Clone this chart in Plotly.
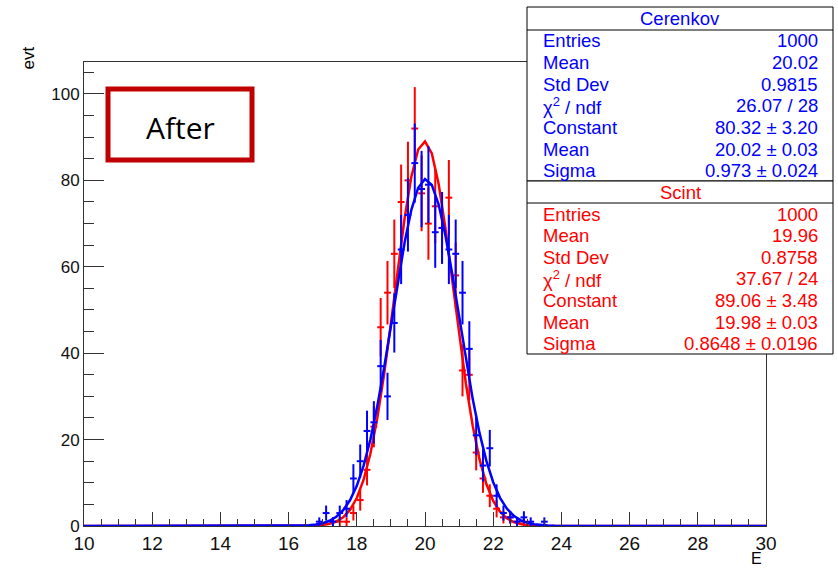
import numpy as np
import plotly.graph_objects as go

# ---------------- data ----------------
bin_centers_blue = [16.9, 17.1, 17.3, 17.5, 17.7, 17.9, 18.1, 18.3, 18.5, 18.7, 18.9,
                    19.1, 19.3, 19.5, 19.7, 19.9, 20.1, 20.3, 20.5, 20.7, 20.9,
                    21.1, 21.3, 21.5, 21.7, 21.9, 22.1, 22.3, 22.5, 22.7, 22.9,
                    23.1, 23.5]
cerenkov_counts = [1, 3, 1, 3, 4, 11, 15, 22, 24, 37, 30,
                   47, 64, 72, 84, 78, 79, 68, 69, 64, 63,
                   54, 41, 21, 14, 18, 7, 3, 2, 1, 2,
                   1, 1]

bin_centers_red = [17.3, 17.5, 17.7, 17.9, 18.1, 18.3, 18.5, 18.7, 18.9,
                   19.1, 19.3, 19.5, 19.7, 19.9, 20.1, 20.3, 20.5, 20.7, 20.9,
                   21.1, 21.3, 21.5, 21.7, 21.9, 22.1, 22.3, 22.5, 22.7, 22.9]
scint_counts = [1, 1, 1, 3, 6, 13, 23, 46, 54,
                63, 75, 80, 92, 77, 70, 74, 69, 76, 58,
                36, 35, 17, 11, 7, 4, 2, 2, 1, 1]

# fit parameters (from the stats boxes)
cer_fit = dict(const=80.32, mean=20.02, sigma=0.973)
sci_fit = dict(const=89.06, mean=19.98, sigma=0.8648)

cer_stats = [("Entries", "1000"), ("Mean", "20.02"), ("Std Dev", "0.9815"),
             ("χ<sup>2</sup> / ndf", "26.07 / 28"), ("Constant", "80.32 ± 3.20"),
             ("Mean", "20.02 ± 0.03"), ("Sigma", "0.973 ± 0.024")]
sci_stats = [("Entries", "1000"), ("Mean", "19.96"), ("Std Dev", "0.8758"),
             ("χ<sup>2</sup> / ndf", "37.67 / 24"), ("Constant", "89.06 ± 3.48"),
             ("Mean", "19.98 ± 0.03"), ("Sigma", "0.8648 ± 0.0196")]

bin_width = 0.2
x_range = [10, 30]
y_range = [0, 107.4]

BLUE = "#0000ff"
RED = "#ff0000"
FONT = "Liberation Sans"

# ---------------- geometry helpers ----------------
W, H = 838, 569
L, R, T, B = 84, 766, 62, 526


def px(xp):
    return (xp - L) / (R - L)


def py(yp):
    return (B - yp) / (B - T)


fig = go.Figure()


def add_hist(xc, counts, color):
    fig.add_trace(go.Scatter(
        x=xc, y=counts, mode="markers",
        marker=dict(size=1, color=color),
        error_y=dict(type="data", array=list(np.sqrt(counts)), visible=True,
                     color=color, thickness=2, width=0),
        error_x=dict(type="constant", value=bin_width / 2, visible=True,
                     color=color, thickness=2, width=0),
        showlegend=False, hoverinfo="skip"))


def add_fit(p, color):
    xs = np.linspace(x_range[0], x_range[1], 101)
    ys = p["const"] * np.exp(-0.5 * ((xs - p["mean"]) / p["sigma"]) ** 2)
    fig.add_trace(go.Scatter(x=xs, y=ys, mode="lines",
                             line=dict(color=color, width=2.5),
                             showlegend=False, hoverinfo="skip"))


add_hist(bin_centers_red, scint_counts, RED)
add_fit(sci_fit, RED)
add_hist(bin_centers_blue, cerenkov_counts, BLUE)
add_fit(cer_fit, BLUE)

shapes = []
annotations = []
SF = 18.5


def stats_box(top, bottom, title_sep, title, rows, color):
    shapes.append(dict(type="rect", xref="paper", yref="paper",
                       x0=px(527), x1=px(833), y0=py(bottom), y1=py(top),
                       line=dict(color="black", width=1), fillcolor="white",
                       layer="above"))
    shapes.append(dict(type="line", xref="paper", yref="paper",
                       x0=px(527), x1=px(833), y0=py(title_sep), y1=py(title_sep),
                       line=dict(color="black", width=1), layer="above"))
    annotations.append(dict(xref="paper", yref="paper", x=px(680),
                            y=py((top + title_sep) / 2), text=title,
                            showarrow=False, xanchor="center", yanchor="middle",
                            font=dict(family=FONT, size=SF, color=color)))
    for i, (k, v) in enumerate(rows):
        yy = title_sep + 11 + i * 21.6
        annotations.append(dict(xref="paper", yref="paper", x=px(541), y=py(yy),
                                text=k, showarrow=False, xanchor="left",
                                yanchor="middle",
                                font=dict(family=FONT, size=SF, color=color)))
        annotations.append(dict(xref="paper", yref="paper", x=px(820), y=py(yy),
                                text=v, showarrow=False, xanchor="right",
                                yanchor="middle",
                                font=dict(family=FONT, size=SF, color=color)))


stats_box(7, 181, 30, "Cerenkov", cer_stats, BLUE)
stats_box(181, 354, 203, "Scint", sci_stats, RED)

# "After" box
shapes.append(dict(type="rect", xref="paper", yref="paper",
                   x0=px(108), x1=px(252), y0=py(160), y1=py(89),
                   line=dict(color="#c00000", width=5), fillcolor="rgba(0,0,0,0)",
                   layer="above"))
annotations.append(dict(xref="paper", yref="paper", x=px(180), y=py(127),
                        text="After", showarrow=False, xanchor="center",
                        yanchor="middle",
                        font=dict(family="Open Sans", size=30, color="black")))

# axis titles
annotations.append(dict(xref="paper", yref="paper", x=px(28), y=py(45),
                        text="evt", showarrow=False, textangle=-90,
                        xanchor="center", yanchor="top",
                        font=dict(family=FONT, size=17, color="black")))
annotations.append(dict(xref="paper", yref="paper", x=px(764), y=py(569),
                        text="E", showarrow=False, xanchor="right",
                        yanchor="bottom",
                        font=dict(family=FONT, size=16, color="black")))

fig.update_layout(
    width=W, height=H,
    margin=dict(l=L, r=W - R, t=T, b=H - B, pad=0),
    paper_bgcolor="white", plot_bgcolor="white",
    shapes=shapes, annotations=annotations,
    xaxis=dict(range=x_range, tickmode="linear", tick0=10, dtick=2,
               ticks="inside", ticklen=14, tickwidth=1, tickcolor="#333",
               minor=dict(dtick=0.5, ticks="inside", ticklen=7, tickcolor="#333"),
               showline=True, linecolor="#333", linewidth=1, mirror=True,
               showgrid=False, zeroline=False,
               tickfont=dict(family=FONT, size=19, color="#111")),
    yaxis=dict(range=y_range, tickmode="linear", tick0=0, dtick=20,
               ticks="inside", ticklen=20, tickwidth=1, tickcolor="#333",
               minor=dict(dtick=5, ticks="inside", ticklen=10, tickcolor="#333"),
               showline=True, linecolor="#333", linewidth=1, mirror=True,
               showgrid=False, zeroline=False,
               tickfont=dict(family=FONT, size=17, color="#111")),
)

fig.write_html("out.html", config={"displayModeBar": False})

# remove the browser's default page margin so the figure sits at (0, 0)
with open("out.html", "r", encoding="utf-8") as f:
    html = f.read()
html = html.replace("<head>", "<head><style>html,body{margin:0;padding:0;}</style>", 1)
with open("out.html", "w", encoding="utf-8") as f:
    f.write(html)
